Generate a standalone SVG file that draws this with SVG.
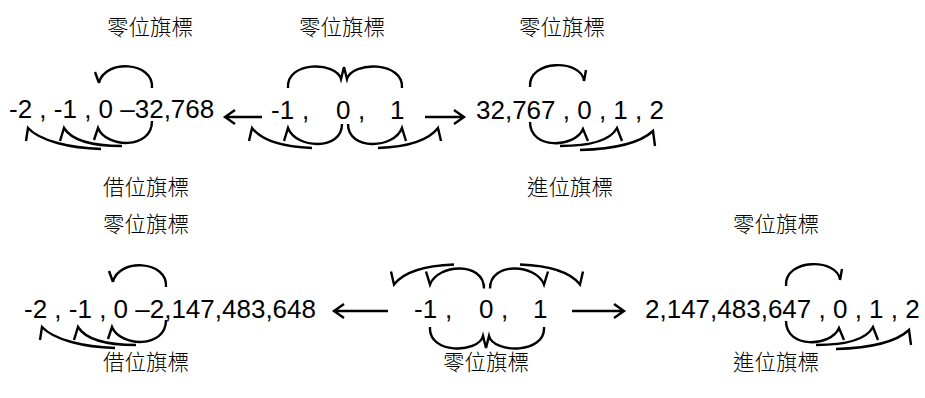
<svg xmlns="http://www.w3.org/2000/svg" xmlns:xlink="http://www.w3.org/1999/xlink" width="925" height="398" viewBox="0 0 925 398">
<style>
.num{font-family:"Liberation Sans",Arial,sans-serif;font-size:26px;fill:#000}
.lbl{font-family:"Noto Sans CJK TC","Noto Sans CJK SC",sans-serif;font-size:21.5px;font-weight:300;fill:#000;text-anchor:middle}
.ln{fill:none;stroke:#000;stroke-width:2.4;stroke-linejoin:miter}
</style>
<defs>
<g id="leftArcs">
<path class="ln" d="M152,88 C154,61 104,59 99,83 M99,83 L95,72"/>
<path class="ln" d="M152,121 C152,150 106,148 98,128 L94,140"/>
<path class="ln" d="M122,146 C95,146 72,141 64,128 L60,141"/>
<path class="ln" d="M101,149 C70,148 40,141 28,128 L26,141"/>
</g>
<g id="rightArcs">
<path class="ln" d="M530,87 C528,59 582,59 584,81 L586,70"/>
<path class="ln" d="M530,122 C530,150 575,148 583,129 L588,141"/>
<path class="ln" d="M560,146 C590,146 610,141 617,128 L622,141"/>
<path class="ln" d="M580,150 C615,149 640,143 653,131 L655,146"/>
</g>
<path id="zeroPair" class="ln" d="M288,88 C286,61 336,61 341,79 L344,67 L347,79 C352,61 404,61 402,88"/>
<g id="flagPair">
<path class="ln" d="M342,124 C342,151 296,149 288,128 L284,141"/>
<path class="ln" d="M312,148 C285,147 262,141 252,128 L249,141"/>
<path class="ln" d="M348,124 C348,151 394,149 402,128 L406,141"/>
<path class="ln" d="M378,148 C405,147 428,141 438,128 L441,141"/>
</g>
</defs>

<g id="row1-left">
<text class="num" x="9" y="118">-2 , -1 , 0 –32,768</text>
<use xlink:href="#leftArcs"/>
<text class="lbl" x="150" y="35">零位旗標</text>
<text class="lbl" x="146" y="195">借位旗標</text>
</g>

<g id="row1-center">
<text class="num" x="271" y="119">-1<tspan x="302">,</tspan><tspan x="336">0</tspan><tspan x="358">,</tspan><tspan x="390">1</tspan></text>
<use xlink:href="#zeroPair"/>
<use xlink:href="#flagPair"/>
<text class="lbl" x="342" y="35">零位旗標</text>
</g>

<g id="row1-right">
<text class="num" x="476" y="119">32,767 , 0 , 1 , 2</text>
<use xlink:href="#rightArcs"/>
<text class="lbl" x="562" y="35">零位旗標</text>
<text class="lbl" x="570" y="195">進位旗標</text>
</g>

<g id="row2-left">
<text class="num" x="24" y="318">-2 , -1 , 0 –2,147,483,648</text>
<use xlink:href="#leftArcs" transform="translate(14,199)"/>
<text class="lbl" x="146" y="232">零位旗標</text>
<text class="lbl" x="146" y="370">借位旗標</text>
</g>

<g id="row2-center">
<text class="num" x="414" y="318">-1<tspan x="445">,</tspan><tspan x="479">0</tspan><tspan x="501">,</tspan><tspan x="533">1</tspan></text>
<use xlink:href="#flagPair" transform="translate(142,412.5) scale(1,-1)"/>
<use xlink:href="#zeroPair" transform="translate(142,415) scale(1,-1)"/>
<text class="lbl" x="486" y="370">零位旗標</text>
</g>

<g id="row2-right">
<text class="num" x="645" y="318">2,147,483,647 , 0 , 1 , 2</text>
<use xlink:href="#rightArcs" transform="translate(256,199)"/>
<text class="lbl" x="776" y="232">零位旗標</text>
<text class="lbl" x="776" y="370">進位旗標</text>
</g>

<g id="connectors">
<path class="ln" d="M262,117 H225 M235,110 L225,117 L235,124"/>
<path class="ln" d="M425,117 H464 M454,110 L464,117 L454,124"/>
<path class="ln" d="M388,311 H334 M344,304 L334,311 L344,318"/>
<path class="ln" d="M572,311 H624 M614,304 L624,311 L614,318"/>
</g>
</svg>
